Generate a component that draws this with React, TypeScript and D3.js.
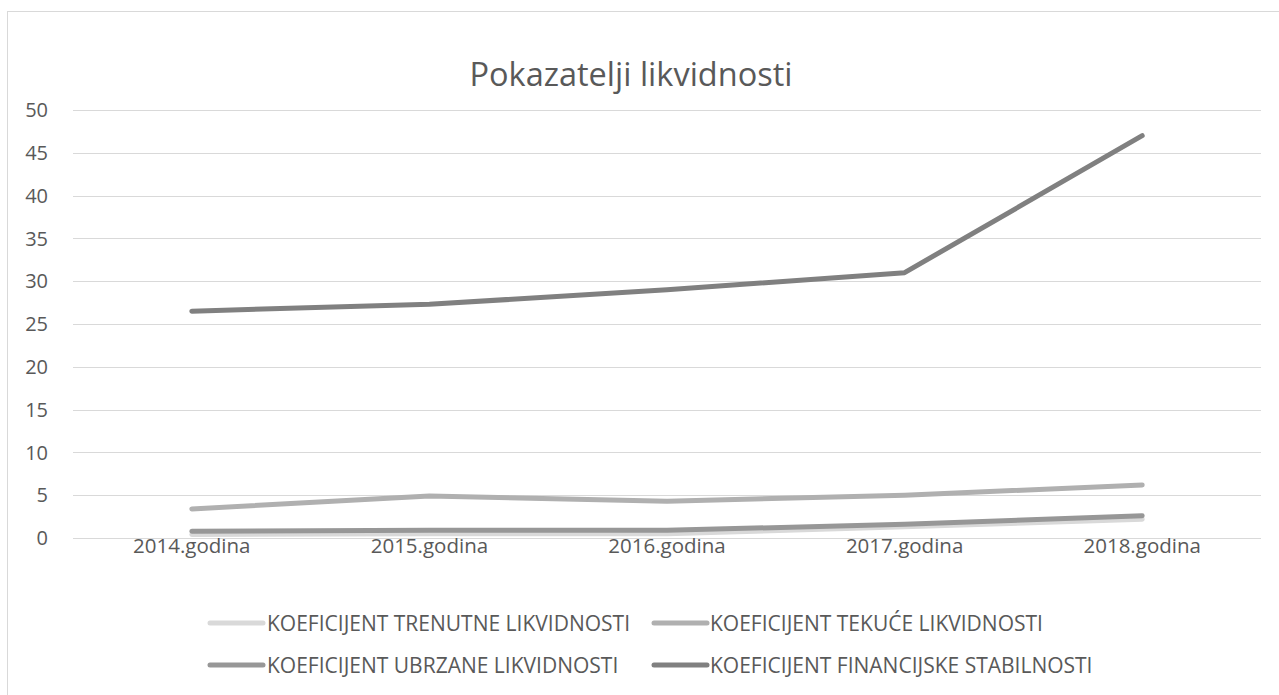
import React, { useEffect, useRef } from "react";
import * as d3 from "d3";

const categories = ["2014.godina", "2015.godina", "2016.godina", "2017.godina", "2018.godina"];
const seriesNames = [
  "KOEFICIJENT TRENUTNE LIKVIDNOSTI",
  "KOEFICIJENT TEKUĆE LIKVIDNOSTI",
  "KOEFICIJENT UBRZANE LIKVIDNOSTI",
  "KOEFICIJENT FINANCIJSKE STABILNOSTI",
];
const trenutne = [0.4, 0.5, 0.5, 1.3, 2.2];
const tekuce = [3.4, 4.9, 4.3, 5.0, 6.2];
const ubrzane = [0.8, 0.9, 0.9, 1.6, 2.6];
const financijske = [26.5, 27.3, 29.0, 31.0, 47.0];
const yTicks = [0, 5, 10, 15, 20, 25, 30, 35, 40, 45, 50];
const colors = ["#d9d9d9", "#b0b0b0", "#979797", "#808080"];

const W = 1279;
const H = 695;
const FONT = "'Open Sans', 'Noto Sans', sans-serif";

export default function App() {
  const ref = useRef<SVGSVGElement>(null);
  useEffect(() => {
    const svg = d3.select(ref.current);
    svg.selectAll("*").remove();
    const left = 73, right = 1261, top = 110, bottom = 538;
    const x = d3.scaleBand<string>().domain(categories).range([left, right]);
    const y = d3.scaleLinear().domain([0, 50]).range([bottom, top]);

    svg.append("rect").attr("x", 0).attr("y", 0).attr("width", W).attr("height", H).attr("fill", "#fff");
    svg.append("rect").attr("x", 7.5).attr("y", 11.5).attr("width", 1400).attr("height", 900)
      .attr("fill", "none").attr("stroke", "#d9d9d9").attr("stroke-width", 1);

    svg.append("text").attr("x", 631).attr("y", 86).attr("text-anchor", "middle")
      .attr("font-family", FONT).attr("font-size", 32.5).attr("fill", "#595959").text("Pokazatelji likvidnosti");

    const g = svg.append("g");
    yTicks.forEach((t) => {
      g.append("line").attr("x1", left).attr("x2", right).attr("y1", Math.round(y(t)) + 0.5).attr("y2", Math.round(y(t)) + 0.5)
        .attr("stroke", "#d9d9d9").attr("stroke-width", 1);
      g.append("text").attr("x", 48).attr("y", y(t)).attr("dy", "0.36em").attr("text-anchor", "end")
        .attr("font-family", FONT).attr("font-size", 20).attr("fill", "#595959").text(String(t));
    });
    categories.forEach((c) => {
      g.append("text").attr("x", x(c)! + x.bandwidth() / 2).attr("y", 553).attr("text-anchor", "middle")
        .attr("font-family", FONT).attr("font-size", 20.5).attr("fill", "#595959").text(c);
    });

    const all = [trenutne, tekuce, ubrzane, financijske];
    const line = d3.line<number>().x((_, i) => x(categories[i])! + x.bandwidth() / 2).y((d) => y(d)).curve(d3.curveLinear);
    all.forEach((s, i) => {
      g.append("path").attr("d", line(s)!).attr("fill", "none").attr("stroke", colors[i])
        .attr("stroke-width", 5).attr("stroke-linecap", "round").attr("stroke-linejoin", "round");
    });

    const legendPos = [
      { lx: 210, tx: 267, y: 623 },
      { lx: 654, tx: 710, y: 623 },
      { lx: 210, tx: 267, y: 665 },
      { lx: 654, tx: 710, y: 665 },
    ];
    seriesNames.forEach((n, i) => {
      const p = legendPos[i];
      g.append("line").attr("x1", p.lx).attr("x2", p.lx + 53).attr("y1", p.y).attr("y2", p.y)
        .attr("stroke", colors[i]).attr("stroke-width", 5).attr("stroke-linecap", "round");
      g.append("text").attr("x", p.tx).attr("y", p.y).attr("dy", "0.36em")
        .attr("font-family", FONT).attr("font-size", 21).attr("fill", "#595959").text(n);
    });
  }, []);
  return (
    <svg ref={ref} width={W} height={H} style={{ position: "absolute", left: 0, top: 0, display: "block" }} />
  );
}
